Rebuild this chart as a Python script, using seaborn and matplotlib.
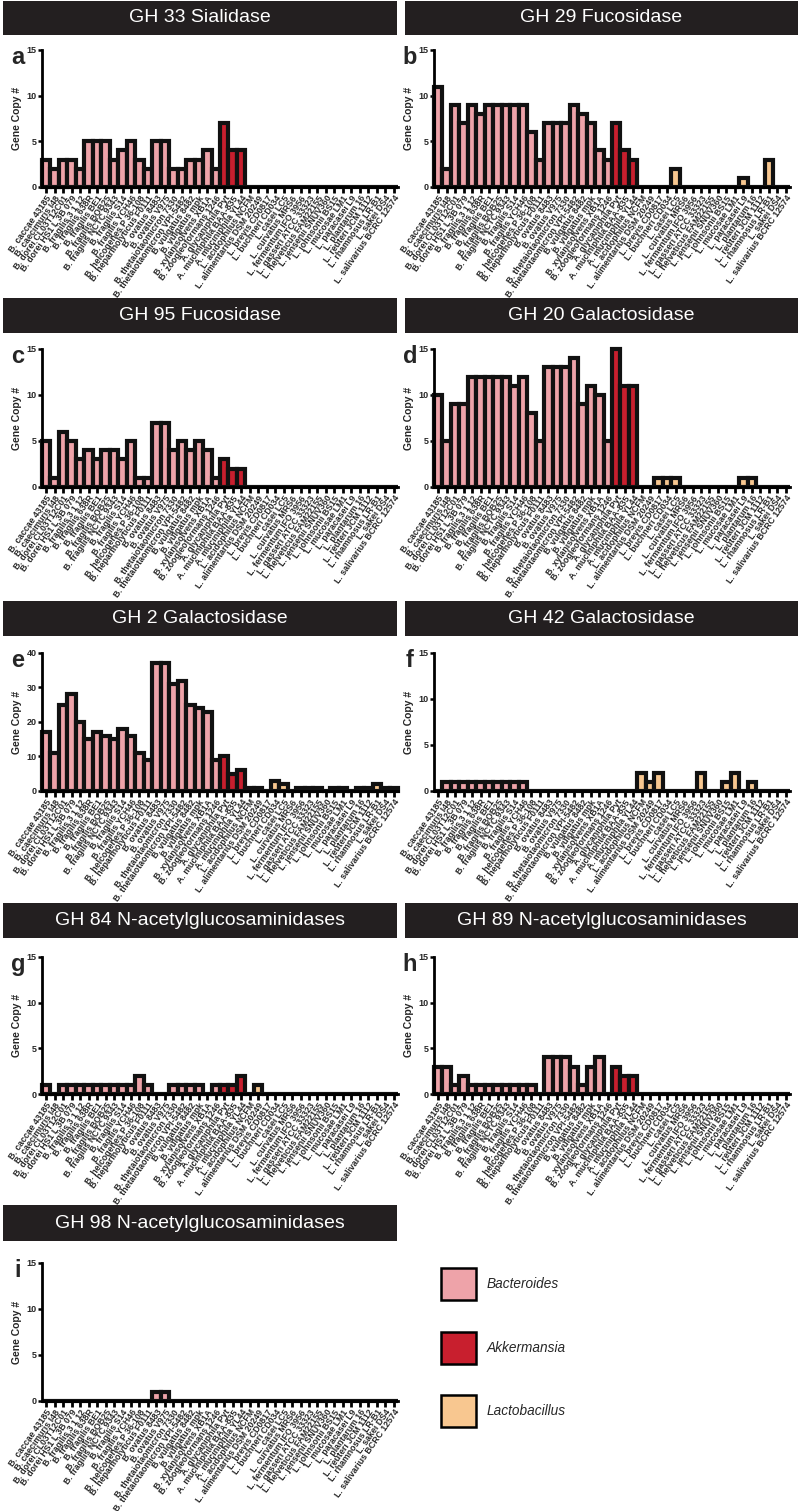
import numpy as np
import pandas as pd
import matplotlib
matplotlib.use("Agg")
import matplotlib.pyplot as plt
import seaborn as sns
from matplotlib.patches import Rectangle

# strains on the x axis (same order in every panel)
strains = [
    'B. caccae 43185', 'B. caecimuris I48', 'B. dorei CL03T12C01', 'B. dorei HS1 L 3B 079',
    'B. fragilis 3 1 12', 'B. fragilis 638R', 'B. fragilis BE1', 'B. fragilis BOB25',
    'B. fragilis NCTC 9343', 'B. fragilis S14', 'B. fragilis YCH46', 'B. helcogenes P 36-108',
    'B. heparinolyticus F0111', 'B. ovatus 8483', 'B. ovatus V975', 'B. thetaiotaomicron 7330',
    'B. thetaiotaomicron VPI-5482', 'B. vulgatus 8482', 'B. vulgatus mpk', 'B. xylanisolvens XB1A',
    'B. zoogleoformans 1246',
    'A. glycaniphila Pyt', 'A. muciniphila BAA-835', 'A. muciniphila YL44',
    'L. acidophilus NCFM', 'L. alimentarius DSM 20249', 'L. brevis CD0817', 'L. buchneri CD034',
    'L. casei LC5', 'L. curvatus MRS6', 'L. fermentum IFO 3956', 'L. gasseri ATCC 33323',
    'L. helveticus FAM22155', 'L. jensenii SNUV360', 'L. johnsonii BS15', 'L. mucosae LM1',
    'L. paracasei L9', 'L. plantarum 16', 'L. reuteri JCM 1112', 'L. rhamnosus LR-B1',
    'L. sakei DS4', 'L. salivarius BCRC 12574',
]
genus = ['Bacteroides'] * 21 + ['Akkermansia'] * 3 + ['Lactobacillus'] * 18

gh33 = [3, 2, 3, 3, 2, 5, 5, 5, 3, 4, 5, 3, 2, 5, 5, 2, 2, 3, 3, 4, 2,
        7, 4, 4,
        0, 0, 0, 0, 0, 0, 0, 0, 0, 0, 0, 0, 0, 0, 0, 0, 0, 0]
gh29 = [11, 2, 9, 7, 9, 8, 9, 9, 9, 9, 9, 6, 3, 7, 7, 7, 9, 8, 7, 4, 3,
        7, 4, 3,
        0, 0, 0, 0, 2, 0, 0, 0, 0, 0, 0, 0, 1, 0, 0, 3, 0, 0]
gh95 = [5, 1, 6, 5, 3, 4, 3, 4, 4, 3, 5, 1, 1, 7, 7, 4, 5, 4, 5, 4, 1,
        3, 2, 2,
        0, 0, 0, 0, 0, 0, 0, 0, 0, 0, 0, 0, 0, 0, 0, 0, 0, 0]
gh20 = [10, 5, 9, 9, 12, 12, 12, 12, 12, 11, 12, 8, 5, 13, 13, 13, 14, 9, 11, 10, 5,
        15, 11, 11,
        0, 0, 1, 1, 1, 0, 0, 0, 0, 0, 0, 0, 1, 1, 0, 0, 0, 0]
gh2 = [17, 11, 25, 28, 20, 15, 17, 16, 15, 18, 16, 11, 9, 37, 37, 31, 32, 25, 24, 23, 9,
       10, 5, 6,
       1, 1, 0, 3, 2, 0, 1, 1, 1, 0, 1, 1, 0, 1, 1, 2, 1, 1]
gh42 = [0, 1, 1, 1, 1, 1, 1, 1, 1, 1, 1, 0, 0, 0, 0, 0, 0, 0, 0, 0, 0,
        0, 0, 0,
        2, 1, 2, 0, 0, 0, 0, 2, 0, 0, 1, 2, 0, 1, 0, 0, 0, 0]
gh84 = [1, 0, 1, 1, 1, 1, 1, 1, 1, 1, 1, 2, 1, 0, 0, 1, 1, 1, 1, 0, 1,
        1, 1, 2,
        0, 1, 0, 0, 0, 0, 0, 0, 0, 0, 0, 0, 0, 0, 0, 0, 0, 0]
gh89 = [3, 3, 1, 2, 1, 1, 1, 1, 1, 1, 1, 1, 0, 4, 4, 4, 3, 1, 3, 4, 0,
        3, 2, 2,
        0, 0, 0, 0, 0, 0, 0, 0, 0, 0, 0, 0, 0, 0, 0, 0, 0, 0]
gh98 = [0, 0, 0, 0, 0, 0, 0, 0, 0, 0, 0, 0, 0, 1, 1, 0, 0, 0, 0, 0, 0,
        0, 0, 0,
        0, 0, 0, 0, 0, 0, 0, 0, 0, 0, 0, 0, 0, 0, 0, 0, 0, 0]

titles = ['GH 33 Sialidase', 'GH 29 Fucosidase', 'GH 95 Fucosidase', 'GH 20 Galactosidase',
          'GH 2 Galactosidase', 'GH 42 Galactosidase', 'GH 84 N-acetylglucosaminidases',
          'GH 89 N-acetylglucosaminidases', 'GH 98 N-acetylglucosaminidases']
letters = ['a', 'b', 'c', 'd', 'e', 'f', 'g', 'h', 'i']
series = [gh33, gh29, gh95, gh20, gh2, gh42, gh84, gh89, gh98]
ymaxes = [15, 15, 15, 15, 40, 15, 15, 15, 15]

colors = {'Bacteroides': '#eea3a9', 'Akkermansia': '#c81f2e', 'Lactobacillus': '#f8c790'}

sns.set_style("ticks")
plt.rcParams['font.family'] = ['Liberation Sans', 'DejaVu Sans']

W, H = 800, 1511
fig = plt.figure(figsize=(8, 15.11), dpi=100)


def frac(x0, y0, x1, y1):
    return [x0 / W, 1 - y1 / H, (x1 - x0) / W, (y1 - y0) / H]


col_x = [(42, 398), (434, 790)]
head_x = [(3, 397), (405, 798)]
row_axes = [(50, 187), (349, 487), (653, 791), (957, 1094), (1263, 1401)]
row_head = [(1, 35), (298, 333), (601, 636), (903, 938), (1205, 1241)]

for k, vals in enumerate(series):
    row, col = divmod(k, 2)
    x0, x1 = col_x[col]
    y0, y1 = row_axes[row]

    # black title bar
    hx0, hx1 = head_x[col]
    hy0, hy1 = row_head[row]
    hax = fig.add_axes(frac(hx0, hy0, hx1, hy1))
    hax.set_facecolor('#231f20')
    hax.set_xticks([])
    hax.set_yticks([])
    for s in hax.spines.values():
        s.set_visible(False)
    hax.text(0.5, 0.5, titles[k], color='white', ha='center', va='center', fontsize=14)

    df = pd.DataFrame({'strain': strains, 'copies': vals, 'genus': genus})
    ax = fig.add_axes(frac(x0, y0, x1, y1))
    sns.barplot(data=df, x='strain', y='copies', hue='genus', palette=colors, dodge=False,
                width=1, edgecolor='#111111', linewidth=3.0, saturation=1, legend=False, ax=ax)
    for p in ax.patches:
        p.set_clip_on(False)
    ax.set_xlim(-0.5, 41.5)
    ax.set_ylim(0, ymaxes[k])
    step = 10 if ymaxes[k] == 40 else 5
    ax.set_yticks(np.arange(0, ymaxes[k] + 1, step))
    sns.despine(ax=ax)
    for s in ('left', 'bottom'):
        ax.spines[s].set_linewidth(2.0)
        ax.spines[s].set_color('black')
    ax.tick_params(axis='x', length=4, width=2, pad=1, color='black')
    ax.tick_params(axis='y', length=3, width=1.8, pad=1, labelsize=6.5, color='black')
    for t in ax.get_yticklabels():
        t.set_fontweight('bold')
    ax.set_xticks(range(len(strains)))
    ax.set_xticklabels(strains, rotation=55, ha='right', rotation_mode='anchor',
                       fontsize=6.3, fontweight='bold')
    ax.set_xlabel('')
    ax.set_ylabel('Gene Copy #', fontsize=7.5, fontweight='bold', labelpad=3)

    fig.text((x0 - 24) / W, 1 - (y0 - 4) / H, letters[k], fontsize=17, fontweight='bold',
             ha='center', va='top')

# legend panel
lax = fig.add_axes(frac(420, 1250, 800, 1450))
lax.set_xlim(420, 800)
lax.set_ylim(1450, 1250)
lax.axis('off')
for (name, ytop) in zip(['Bacteroides', 'Akkermansia', 'Lactobacillus'], [1268, 1332, 1395]):
    lax.add_patch(Rectangle((441, ytop), 35, 32, facecolor=colors[name],
                            edgecolor='black', linewidth=1.8))
    lax.text(487, ytop + 16, name, fontsize=9.8, fontstyle='italic', va='center', ha='left')

fig.savefig('out.png', dpi=100)
